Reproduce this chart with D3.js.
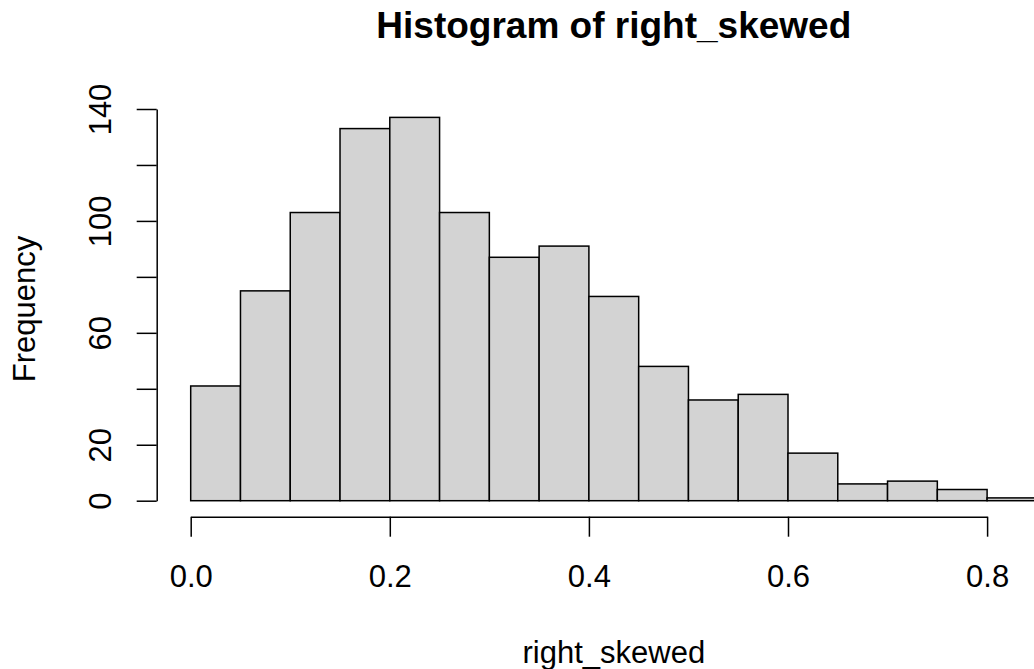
<!DOCTYPE html>
<html>
<head>
<meta charset="utf-8">
<script src="https://cdn.jsdelivr.net/npm/d3@7"></script>
<style>
  body { margin: 0; background: #fff; }
  svg text { font-family: "Liberation Sans", Arial, Helvetica, sans-serif; fill: #000; }
</style>
</head>
<body>
<svg id="chart" width="1034" height="669"></svg>
<script>
// histogram bins (left edges) and counts, width 0.05
var binStarts = [0.00, 0.05, 0.10, 0.15, 0.20, 0.25, 0.30, 0.35, 0.40,
                 0.45, 0.50, 0.55, 0.60, 0.65, 0.70, 0.75, 0.80];
var counts = [41, 75, 103, 133, 137, 103, 87, 91, 73, 48, 36, 38, 17, 6, 7, 4, 1];
var binWidth = 0.05;
var xTicks = [0.0, 0.2, 0.4, 0.6, 0.8];
var yTicks = [0, 20, 40, 60, 80, 100, 120, 140];
var yLabeled = [0, 20, 60, 100, 140];

var svg = d3.select('#chart');
var fontSize = 31;

var x = d3.scaleLinear().domain([0, 0.8]).range([190.7, 987.1]);
var y = d3.scaleLinear().domain([0, 140]).range([500.7, 109]);

// bars
svg.append('g').selectAll('rect')
  .data(binStarts)
  .enter().append('rect')
  .attr('x', function(d) { return x(d); })
  .attr('y', function(d, i) { return y(counts[i]); })
  .attr('width', function(d) { return x(d + binWidth) - x(d); })
  .attr('height', function(d, i) { return y(0) - y(counts[i]); })
  .attr('fill', '#d3d3d3')
  .attr('stroke', '#000')
  .attr('stroke-width', 1.5);

// x axis
var xAxis = svg.append('g')
  .attr('transform', 'translate(0,516.7)')
  .call(d3.axisBottom(x).tickValues(xTicks).tickSize(20).tickSizeOuter(0)
    .tickFormat(d3.format('.1f')));
xAxis.selectAll('path, line').attr('stroke', '#000').attr('stroke-width', 1.5);
xAxis.selectAll('text')
  .attr('y', 70).attr('dy', null)
  .style('font-size', fontSize + 'px');

// y axis
var yAxis = svg.append('g')
  .attr('transform', 'translate(156.7,0)')
  .call(d3.axisLeft(y).tickValues(yTicks).tickSize(20).tickSizeOuter(0)
    .tickFormat(function(d) { return yLabeled.indexOf(d) >= 0 ? d : ''; }));
yAxis.selectAll('path, line').attr('stroke', '#000').attr('stroke-width', 1.5);
yAxis.selectAll('text')
  .attr('x', null).attr('dy', null)
  .attr('transform', 'translate(-46,0) rotate(-90)')
  .attr('text-anchor', 'middle')
  .style('font-size', fontSize + 'px');

// titles
svg.append('text')
  .attr('x', 613.8).attr('y', 38)
  .attr('text-anchor', 'middle')
  .style('font-size', '37px').style('font-weight', 'bold')
  .text('Histogram of right_skewed');

svg.append('text')
  .attr('x', 613.8).attr('y', 663)
  .attr('text-anchor', 'middle')
  .style('font-size', fontSize + 'px')
  .text('right_skewed');

svg.append('text')
  .attr('transform', 'translate(35,309) rotate(-90)')
  .attr('text-anchor', 'middle')
  .style('font-size', fontSize + 'px')
  .text('Frequency');
</script>
</body>
</html>
